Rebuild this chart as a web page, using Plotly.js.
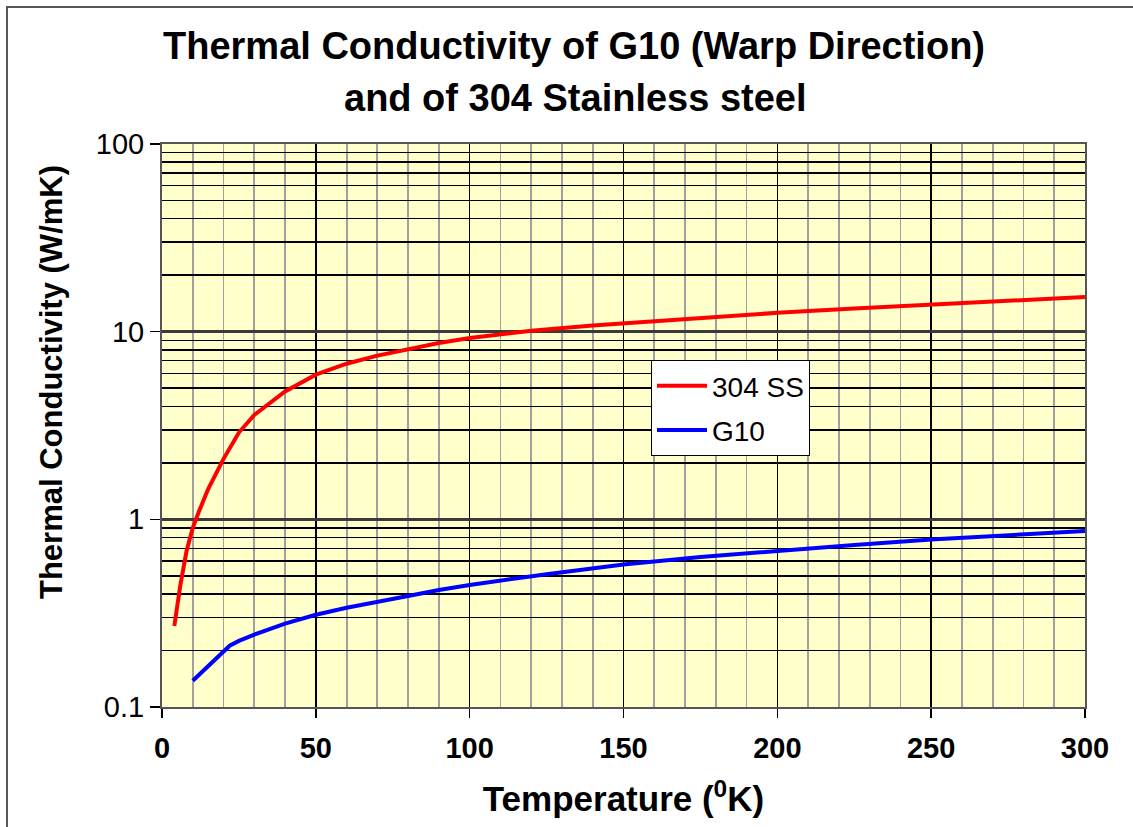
<!DOCTYPE html>
<html>
<head>
<meta charset="utf-8">
<script src="https://cdn.plot.ly/plotly-3.0.1.min.js"></script>
<style>
  html, body { margin: 0; padding: 0; background: #ffffff; overflow: hidden; }
  #chart { width: 1133px; height: 827px; position: absolute; left: 0; top: 0; }
  #frame { position: absolute; left: 6px; top: 6px; width: 1200px; height: 900px;
           border-left: 2px solid #555; border-top: 2px solid #555; pointer-events: none; }
</style>
</head>
<body>
<div id="chart"></div>
<div id="frame"></div>
<script>
// Temperature (K) and thermal conductivity (W/mK)
const tempSS = [4, 6, 8, 10, 12, 15, 20, 25, 30, 40, 50, 60, 70, 80, 90, 100, 120, 140, 160, 180, 200, 225, 250, 275, 300];
const condSS = [0.27, 0.45, 0.68, 0.9, 1.1, 1.45, 2.1, 2.9, 3.6, 4.8, 5.9, 6.75, 7.45, 8.1, 8.7, 9.25, 10.1, 10.8, 11.4, 12.0, 12.6, 13.3, 14.0, 14.6, 15.3];

const tempG10 = [10, 15, 20, 22, 25, 30, 40, 50, 60, 70, 80, 90, 100, 125, 150, 175, 200, 225, 250, 275, 300];
const condG10 = [0.138, 0.165, 0.197, 0.212, 0.225, 0.243, 0.278, 0.31, 0.338, 0.365, 0.39, 0.42, 0.447, 0.51, 0.575, 0.63, 0.68, 0.73, 0.78, 0.825, 0.867];

const seriesNames = ["304 SS", "G10"];
const seriesColors = ["#ff0000", "#0000ff"];

const titleLines = ["Thermal Conductivity of G10 (Warp Direction)", "and of 304 Stainless steel"];
const xTitle = "Temperature (<sup>0</sup>K)";
const yTitle = "Thermal Conductivity (W/mK)";

const FONT = "Liberation Sans, Arial, Helvetica, sans-serif";

const traces = [
  { x: tempSS, y: condSS, name: seriesNames[0], legendgroup: "a", type: "scatter", mode: "lines",
    line: { color: seriesColors[0], width: 4 } },
  { x: tempG10, y: condG10, name: seriesNames[1], legendgroup: "b", type: "scatter", mode: "lines",
    line: { color: seriesColors[1], width: 4 } }
];

const PL = 162, PT = 144, PW = 923, PH = 563;
const px2x = px => (px - PL) / PW;
const px2y = py => (PT + PH - py) / PH;

const layout = {
  width: 1133, height: 827,
  margin: { l: PL, r: 1133 - PL - PW, t: PT, b: 827 - PT - PH, pad: 0 },
  paper_bgcolor: "#ffffff",
  plot_bgcolor: "#ffffcc",
  font: { family: FONT, color: "#000000" },
  showlegend: true,
  legend: {
    x: px2x(651), y: px2y(360), xanchor: "left", yanchor: "top",
    bgcolor: "#ffffff", bordercolor: "#000000", borderwidth: 1,
    font: { family: FONT, size: 28, color: "#000000" },
    traceorder: "grouped", tracegroupgap: 5, itemwidth: 50
  },
  xaxis: {
    range: [0, 300], tickmode: "linear", tick0: 0, dtick: 50,
    showgrid: true, gridcolor: "#000000", gridwidth: 1.5,
    minor: { dtick: 10, showgrid: true, gridcolor: "#a0a0a0", gridwidth: 1.8, ticks: "" },
    ticks: "outside", ticklen: 9, tickwidth: 1.5, tickcolor: "#000000",
    showline: true, linecolor: "#555555", linewidth: 2, mirror: true,
    zeroline: false, automargin: false,
    tickfont: { family: FONT, size: 29, weight: "bold", color: "#000000" },
    ticklabelstandoff: 5,
    title: { text: xTitle, standoff: 24, font: { family: FONT, size: 35, weight: "bold", color: "#000000" } }
  },
  yaxis: {
    type: "log", range: [-1, 2], tickmode: "linear", tick0: 0, dtick: 1,
    showgrid: true, gridcolor: "#3a3a3a", gridwidth: 3,
    minor: { dtick: "D1", showgrid: true, gridcolor: "#000000", gridwidth: 1.5, ticks: "" },
    ticks: "outside", ticklen: 10, tickwidth: 1.5, tickcolor: "#000000",
    showline: true, linecolor: "#555555", linewidth: 2, mirror: true,
    zeroline: false, automargin: false,
    tickfont: { family: FONT, size: 29, color: "#000000" }
  },
  annotations: [
    { text: titleLines[0], xref: "paper", yref: "paper", x: px2x(574), y: px2y(46),
      xanchor: "center", yanchor: "middle", showarrow: false,
      font: { family: FONT, size: 38, weight: "bold", color: "#000000" } },
    { text: titleLines[1], xref: "paper", yref: "paper", x: px2x(575), y: px2y(98),
      xanchor: "center", yanchor: "middle", showarrow: false,
      font: { family: FONT, size: 38, weight: "bold", color: "#000000" } },
    { text: yTitle, textangle: -90, xref: "paper", yref: "paper",
      x: px2x(51), y: px2y(382), xanchor: "center", yanchor: "middle",
      showarrow: false, font: { family: FONT, size: 31, weight: "bold", color: "#000000" } }
  ]
};

Plotly.newPlot("chart", traces, layout, { displayModeBar: false, staticPlot: true });
</script>
</body>
</html>
